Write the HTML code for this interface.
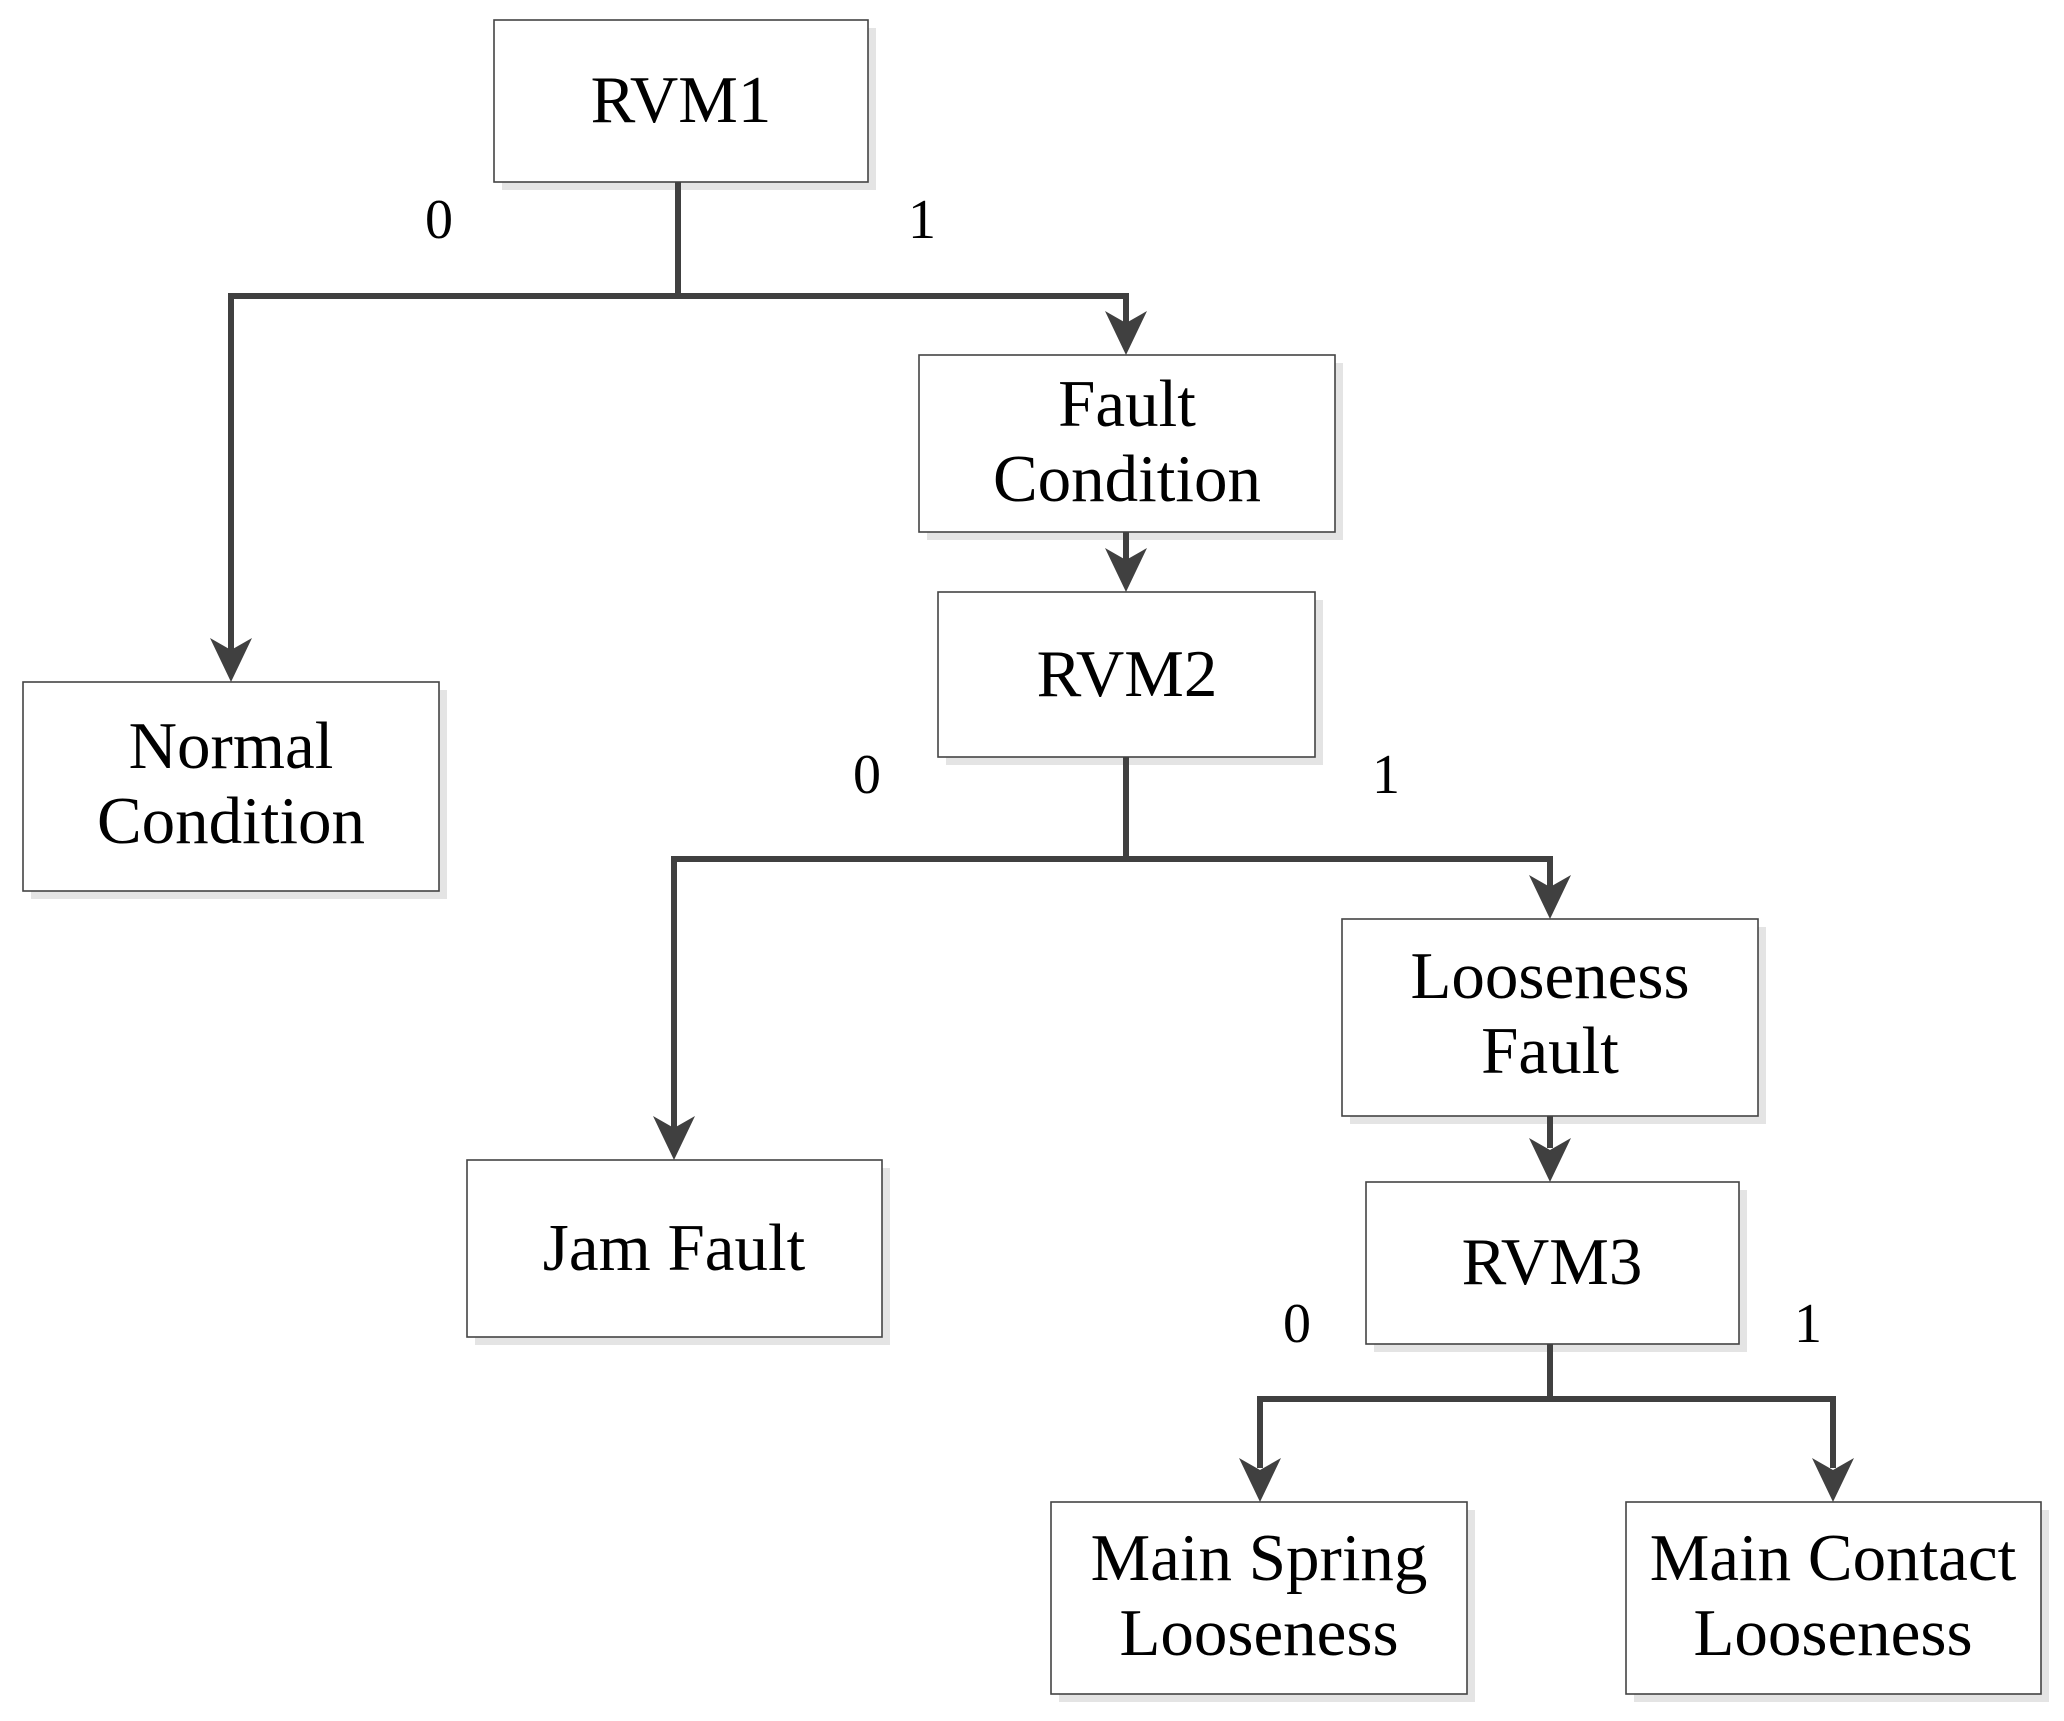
<!DOCTYPE html>
<html><head><meta charset="utf-8"><style>
html,body{margin:0;padding:0;background:#fff;}
svg{display:block;}
text{font-family:"Liberation Serif",serif;font-size:67px;fill:#000;text-anchor:middle;}
.s{fill:#e4e4e4;}
.b{fill:#fff;stroke:#444;stroke-width:1.6;}
.l{stroke:#404040;stroke-width:6;fill:none;stroke-linejoin:miter;}
.a{fill:#404040;}
.n{font-size:56px;}
</style></head><body>
<svg width="2064" height="1721" viewBox="0 0 2064 1721" xmlns="http://www.w3.org/2000/svg">
<g transform="translate(-3,-2)">
<rect class="s" x="505" y="30" width="374" height="162"/>
<rect class="s" x="34" y="692" width="416" height="209"/>
<rect class="s" x="930" y="365" width="416" height="177"/>
<rect class="s" x="949" y="602" width="377" height="165"/>
<rect class="s" x="478" y="1170" width="415" height="177"/>
<rect class="s" x="1353" y="929" width="416" height="197"/>
<rect class="s" x="1377" y="1192" width="373" height="162"/>
<rect class="s" x="1062" y="1512" width="416" height="192"/>
<rect class="s" x="1637" y="1512" width="415" height="192"/>
<rect class="b" x="497" y="22" width="374" height="162"/>
<rect class="b" x="26" y="684" width="416" height="209"/>
<rect class="b" x="922" y="357" width="416" height="177"/>
<rect class="b" x="941" y="594" width="377" height="165"/>
<rect class="b" x="470" y="1162" width="415" height="177"/>
<rect class="b" x="1345" y="921" width="416" height="197"/>
<rect class="b" x="1369" y="1184" width="373" height="162"/>
<rect class="b" x="1054" y="1504" width="416" height="192"/>
<rect class="b" x="1629" y="1504" width="415" height="192"/>
<path class="l" d="M681 184 V298 M234 660 V298 H1129 V330"/>
<path class="l" d="M1129 534 V566"/>
<path class="l" d="M1129 759 V861 M677 1130 V861 H1553 V890"/>
<path class="l" d="M1553 1118 V1150"/>
<path class="l" d="M1553 1346 V1401 M1263 1470 V1401 H1836 V1470"/>
<path class="a" d="M213 640 L234 652 L255 640 L234 684 Z"/>
<path class="a" d="M1108 313 L1129 325 L1150 313 L1129 357 Z"/>
<path class="a" d="M1108 550 L1129 562 L1150 550 L1129 594 Z"/>
<path class="a" d="M656 1118 L677 1130 L698 1118 L677 1162 Z"/>
<path class="a" d="M1532 877 L1553 889 L1574 877 L1553 921 Z"/>
<path class="a" d="M1532 1140 L1553 1152 L1574 1140 L1553 1184 Z"/>
<path class="a" d="M1242 1460 L1263 1472 L1284 1460 L1263 1504 Z"/>
<path class="a" d="M1815 1460 L1836 1472 L1857 1460 L1836 1504 Z"/>
<text x="684" y="124">RVM1</text>
<text x="234" y="770">Normal</text>
<text x="234" y="845">Condition</text>
<text x="1130" y="428">Fault</text>
<text x="1130" y="503">Condition</text>
<text x="1130" y="698">RVM2</text>
<text x="677" y="1272">Jam Fault</text>
<text x="1553" y="1000">Looseness</text>
<text x="1553" y="1075">Fault</text>
<text x="1555" y="1286">RVM3</text>
<text x="1262" y="1582">Main Spring</text>
<text x="1262" y="1657">Looseness</text>
<text x="1836" y="1582">Main Contact</text>
<text x="1836" y="1657">Looseness</text>
<text class="n" x="442" y="240">0</text>
<text class="n" x="925" y="240">1</text>
<text class="n" x="870" y="795">0</text>
<text class="n" x="1389" y="795">1</text>
<text class="n" x="1300" y="1344">0</text>
<text class="n" x="1811" y="1344">1</text>
</g>
</svg>
</body></html>
